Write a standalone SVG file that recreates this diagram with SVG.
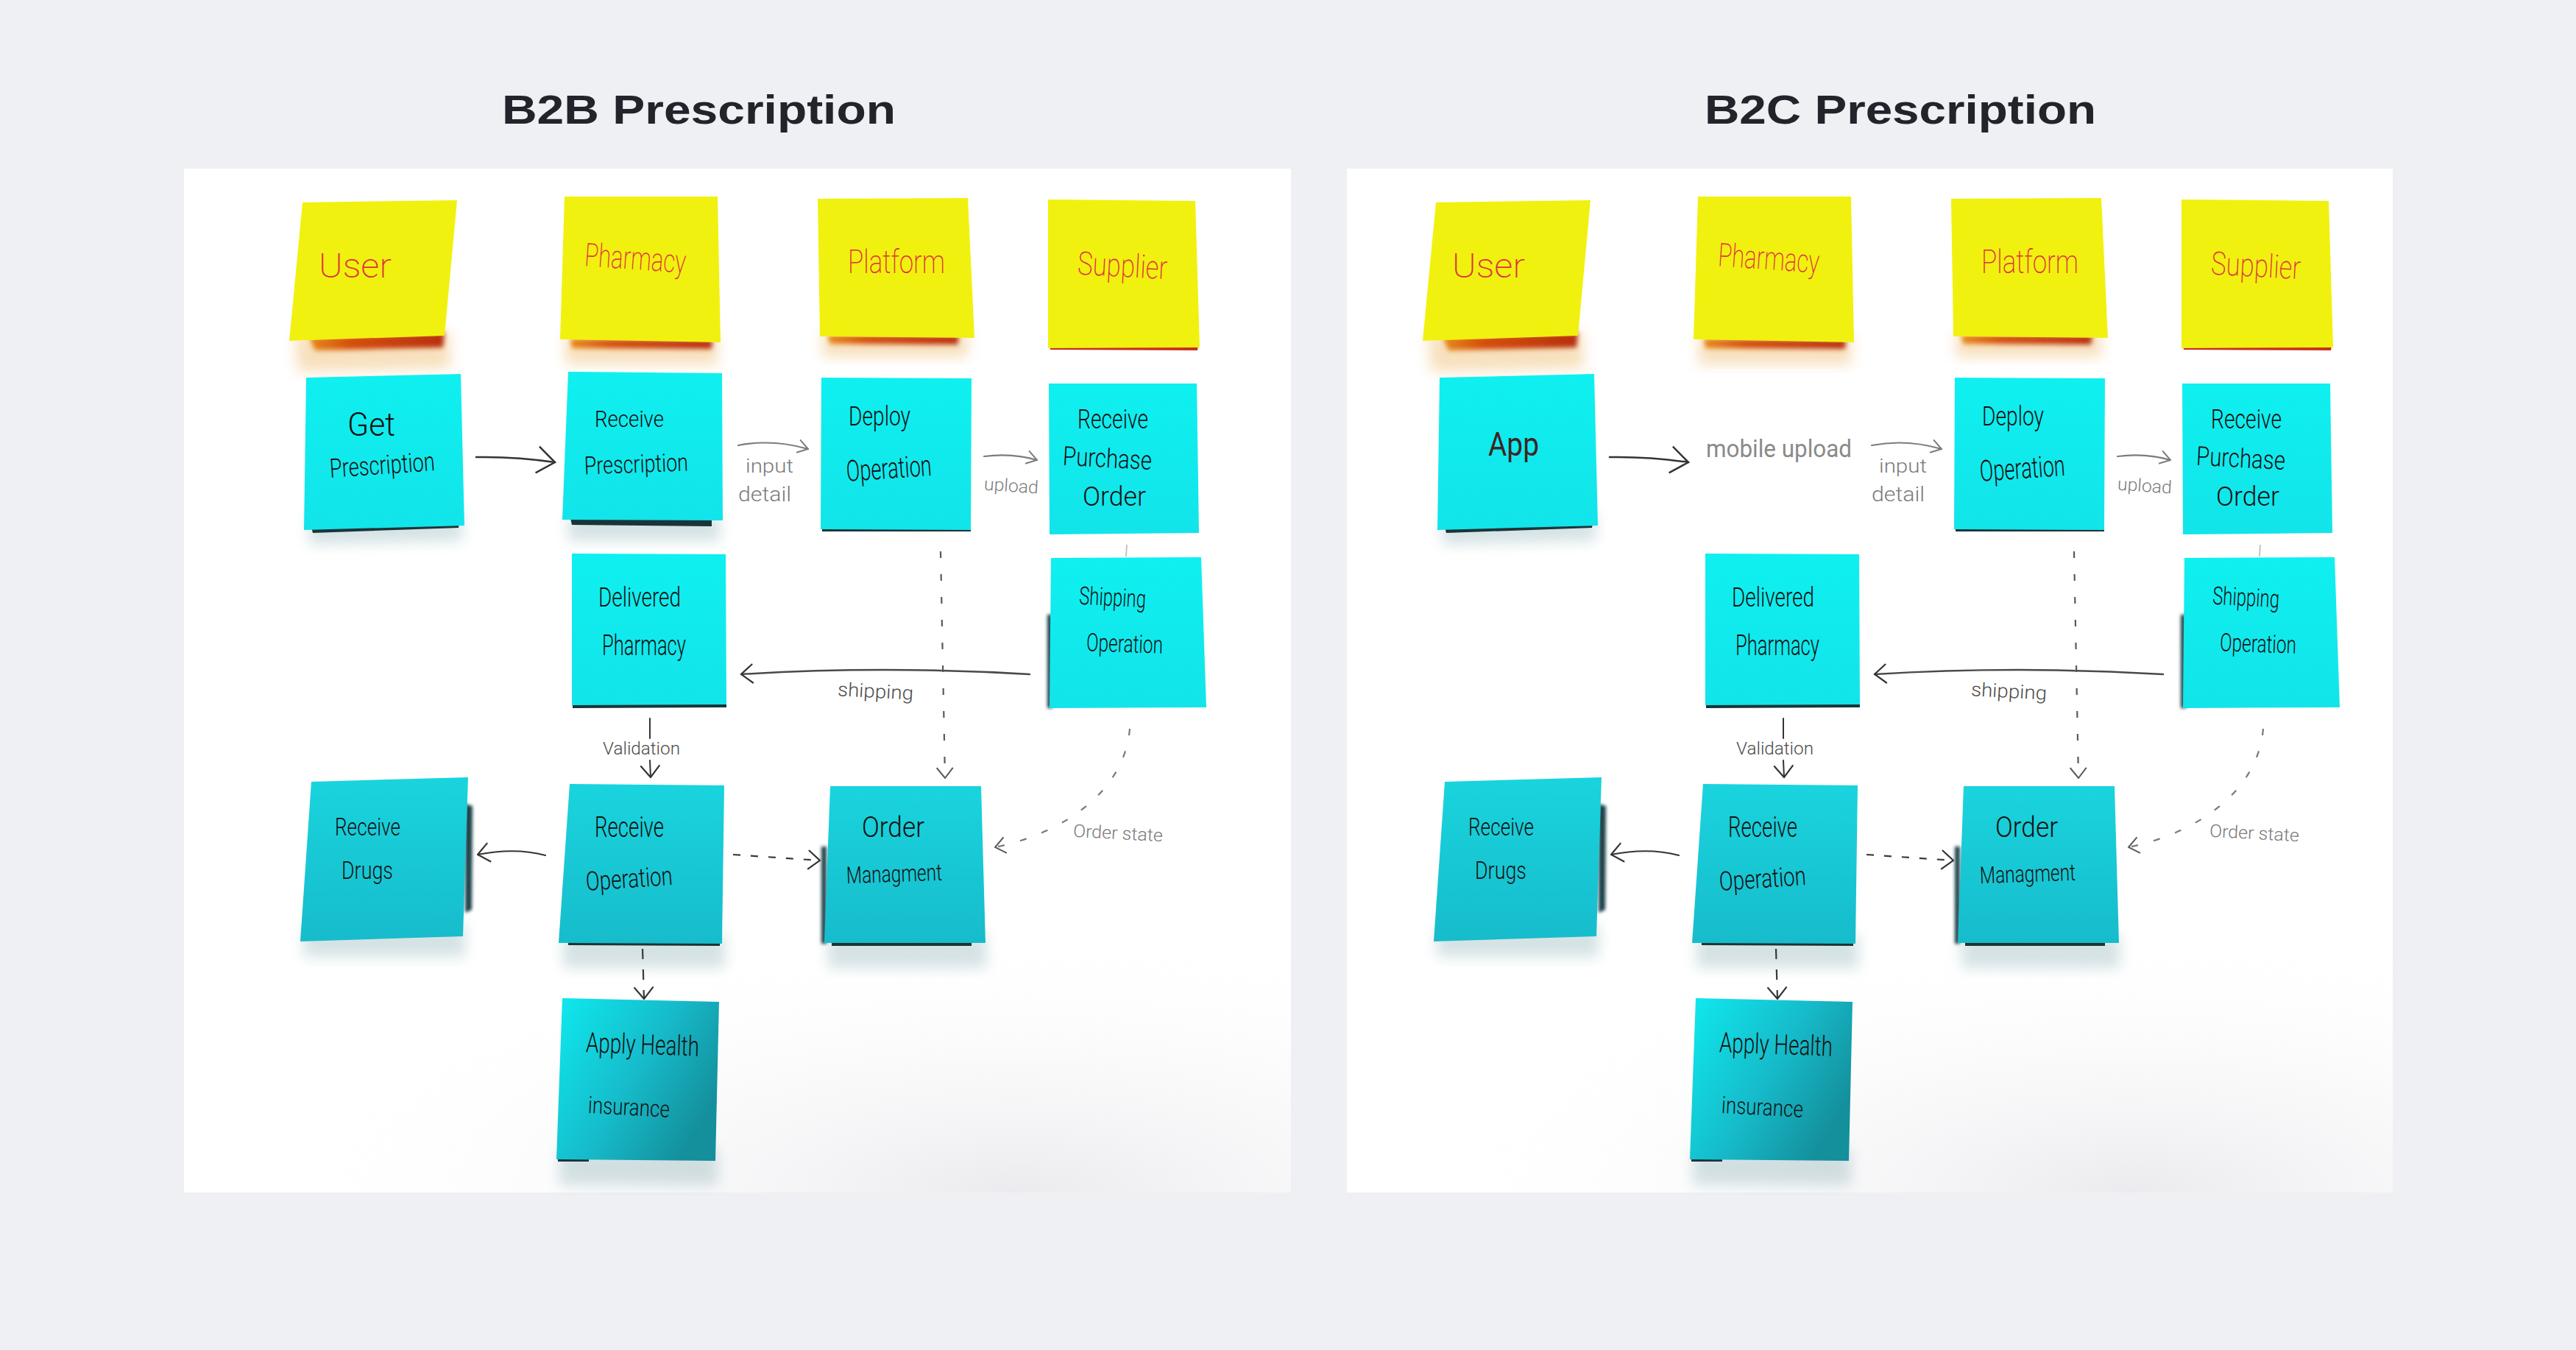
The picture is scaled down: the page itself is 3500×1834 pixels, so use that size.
<svg xmlns="http://www.w3.org/2000/svg" width="3500" height="1834" viewBox="0 0 3500 1834">
<style>
.title{font-family:"Liberation Sans",Arial,sans-serif;font-weight:700;font-size:56px;fill:#22232b}
.lane{font-family:Roboto,"Liberation Sans",sans-serif;font-weight:200;fill:#e0303c}
.hand{font-family:Roboto,"Liberation Sans",sans-serif;font-weight:300;fill:#121212}
.lbl{font-family:Roboto,"Liberation Sans",sans-serif;font-weight:300;fill:#4a4a4a}
.lblg{font-family:Roboto,"Liberation Sans",sans-serif;font-weight:300;fill:#7a7a7a}
.yel{fill:#f1f10f}
.cy{fill:url(#gCy)}
.cyd{fill:url(#gCyD)}
.cyh{fill:url(#gCyH)}
.edge{fill:#1a3438}
.edgeS{fill:#1d4248;filter:url(#blurS)}
.ysh{fill:url(#gYs);filter:url(#blur)}
.ysoft{fill:#e9a640;opacity:.35;filter:url(#blurL)}
.csoft{fill:#6a9aa0;opacity:.28;filter:url(#blurL)}
.c-dark{fill:none;stroke:#343434;stroke-width:2.5;stroke-linecap:round}
.c-gray{fill:none;stroke:#7c7c7c;stroke-width:2.2;stroke-linecap:round}
.c-dash{fill:none;stroke:#5a5a5a;stroke-width:2.2;stroke-dasharray:9 22}
.c-dash2{fill:none;stroke:#3a3a3a;stroke-width:2.2;stroke-dasharray:10 14}
.c-faint{fill:none;stroke:#c4c4c4;stroke-width:2}
</style>
<defs>
<linearGradient id="gCy" x1="0" y1="0" x2="0" y2="1"><stop offset="0" stop-color="#0ff0f0"/><stop offset="1" stop-color="#12e4ea"/></linearGradient>
<linearGradient id="gCyD" x1="0" y1="0" x2="0" y2="1"><stop offset="0" stop-color="#19d4de"/><stop offset="1" stop-color="#17bccb"/></linearGradient>
<linearGradient id="gCyH" x1="0" y1="0" x2="1" y2="0.6"><stop offset="0" stop-color="#0eeaee"/><stop offset="0.55" stop-color="#16bccb"/><stop offset="1" stop-color="#148f9c"/></linearGradient>
<linearGradient id="gYs" x1="0" y1="0" x2="1" y2="0"><stop offset="0" stop-color="#e88a1a"/><stop offset="0.3" stop-color="#d4500c"/><stop offset="1" stop-color="#b8300a"/></linearGradient>
<radialGradient id="gFloor" cx="0.75" cy="1" r="0.7"><stop offset="0" stop-color="#e9e8ec" stop-opacity="0.9"/><stop offset="1" stop-color="#ffffff" stop-opacity="0"/></radialGradient>
<filter id="blur" x="-20%" y="-50%" width="140%" height="200%"><feGaussianBlur stdDeviation="3"/></filter>
<filter id="blurS" x="-100%" y="-10%" width="300%" height="120%"><feGaussianBlur stdDeviation="2"/></filter>
<filter id="blurL" x="-30%" y="-30%" width="160%" height="160%"><feGaussianBlur stdDeviation="9"/></filter>
<marker id="mL" viewBox="0 0 28 40" refX="26" refY="20" markerWidth="28" markerHeight="40" markerUnits="userSpaceOnUse" orient="auto"><path d="M2,2 L26,20 L2,38" fill="none" stroke="#343434" stroke-width="2.5"/></marker>
<marker id="mM" viewBox="0 0 18 28" refX="17" refY="14" markerWidth="18" markerHeight="28" markerUnits="userSpaceOnUse" orient="auto"><path d="M1,1 L17,14 L1,27" fill="none" stroke="#343434" stroke-width="2.2"/></marker>
<marker id="mG" viewBox="0 0 16 20" refX="15" refY="10" markerWidth="16" markerHeight="20" markerUnits="userSpaceOnUse" orient="auto"><path d="M1,1 L15,10 L1,19" fill="none" stroke="#7c7c7c" stroke-width="2"/></marker>
<marker id="mD" viewBox="0 0 16 24" refX="15" refY="12" markerWidth="16" markerHeight="24" markerUnits="userSpaceOnUse" orient="auto"><path d="M1,1 L15,12 L1,23" fill="none" stroke="#5a5a5a" stroke-width="2"/></marker>
</defs>

<rect width="3500" height="1834" fill="#eff0f4"/>
<rect x="250" y="229" width="1504" height="1391" fill="#ffffff"/>
<rect x="1830" y="229" width="1421" height="1391" fill="#ffffff"/>
<rect x="250" y="1100" width="1504" height="520" fill="url(#gFloor)"/>
<rect x="1830" y="1100" width="1421" height="520" fill="url(#gFloor)"/>

<text class="title" x="682" y="168" textLength="535" lengthAdjust="spacingAndGlyphs">B2B Prescription</text>
<text class="title" x="2316" y="168" textLength="532" lengthAdjust="spacingAndGlyphs">B2C Prescription</text>

<!-- ============ B2B panel nodes ============ -->
<g id="b2b-user">
<polygon class="ysoft" points="400,455 610,450 612,500 405,505"/>
<polygon class="ysh" points="420,458 604,452 602,472 428,476"/>
<polygon class="yel" points="411,275 621,272 604,456 393,463"/>
<text class="lane" x="433" y="377" font-size="46" textLength="99" lengthAdjust="spacingAndGlyphs">User</text>
</g>
<g id="b2b-pharmacy">
<polygon class="ysoft" points="768,455 975,455 975,495 768,495"/>
<polygon class="ysh" points="775,460 968,462 967,474 777,473"/>
<polygon class="yel" points="767,267 975,267 979,465 761,461"/>
<text class="lane" x="794" y="366" font-size="44" textLength="138" lengthAdjust="spacingAndGlyphs" transform="rotate(4 863 355)">Pharmacy</text>
</g>
<g id="b2b-platform">
<polygon class="ysoft" points="1118,450 1315,450 1315,485 1118,485"/>
<polygon class="ysh" points="1125,455 1303,456 1301,468 1127,467"/>
<polygon class="yel" points="1111,270 1315,269 1324,459 1114,457"/>
<text class="lane" x="1152" y="371" font-size="44" textLength="132" lengthAdjust="spacingAndGlyphs">Platform</text>
</g>
<g id="b2b-supplier">
<polygon points="1426,468 1628,469 1627,476 1427,475" fill="#c8301a"/>
<polygon class="yel" points="1424,271 1624,273 1630,472 1424,473"/>
<text class="lane" x="1464" y="376" font-size="44" textLength="122" lengthAdjust="spacingAndGlyphs" transform="rotate(3 1525 365)">Supplier</text>
</g>

<g id="b2b-get-prescription">
<polygon class="csoft" points="420,700 628,695 628,735 420,740"/>
<polygon class="edge" points="423,716 624,710 623,717 425,724"/>
<polygon class="cy" points="416,513 626,508 631,714 413,720"/>
<text class="hand" x="472" y="592" font-size="44" textLength="65" lengthAdjust="spacingAndGlyphs">Get</text>
<text class="hand" x="448" y="644" font-size="36" textLength="143" lengthAdjust="spacingAndGlyphs" transform="rotate(-4 520 635)">Prescription</text>
</g>
<g id="b2b-receive-prescription">
<polygon class="csoft" points="772,700 978,700 978,735 772,735"/>
<polygon class="edge" points="775,704 967,706 967,715 777,713"/>
<polygon class="cy" points="772,505 981,507 982,707 764,706"/>
<text class="hand" x="808" y="580" font-size="32" textLength="94" lengthAdjust="spacingAndGlyphs">Receive</text>
<text class="hand" x="794" y="642" font-size="34" textLength="141" lengthAdjust="spacingAndGlyphs" transform="rotate(-2 865 635)">Prescription</text>
</g>
<g id="b2b-deploy-operation">
<polygon class="edge" points="1117,718 1319,718 1319,722 1117,722"/>
<polygon class="cy" points="1116,513 1320,514 1319,720 1115,719"/>
<text class="hand" x="1153" y="578" font-size="36" textLength="84" lengthAdjust="spacingAndGlyphs">Deploy</text>
<text class="hand" x="1150" y="650" font-size="40" textLength="116" lengthAdjust="spacingAndGlyphs" transform="rotate(-4 1208 640)">Operation</text>
</g>
<g id="b2b-receive-purchase-order">
<polygon class="cy" points="1425,521 1626,521 1629,724 1426,726"/>
<text class="hand" x="1464" y="582" font-size="36" textLength="96" lengthAdjust="spacingAndGlyphs">Receive</text>
<text class="hand" x="1444" y="635" font-size="36" textLength="121" lengthAdjust="spacingAndGlyphs" transform="rotate(3 1505 625)">Purchase</text>
<text class="hand" x="1471" y="687" font-size="36" textLength="86" lengthAdjust="spacingAndGlyphs">Order</text>
</g>
<g id="b2b-delivered-pharmacy">
<polygon class="edge" points="778,957 987,956 987,961 778,962"/>
<polygon class="cy" points="777,752 986,753 987,957 777,958"/>
<text class="hand" x="813" y="824" font-size="36" textLength="112" lengthAdjust="spacingAndGlyphs">Delivered</text>
<text class="hand" x="818" y="890" font-size="38" textLength="114" lengthAdjust="spacingAndGlyphs">Pharmacy</text>
</g>
<g id="b2b-shipping-operation">
<polygon class="edgeS" points="1423,835 1430,835 1430,962 1423,962"/>
<polygon class="cy" points="1428,758 1632,757 1639,961 1426,962"/>
<text class="hand" x="1466" y="823" font-size="34" textLength="91" lengthAdjust="spacingAndGlyphs" transform="rotate(3 1510 815)">Shipping</text>
<text class="hand" x="1476" y="886" font-size="34" textLength="104" lengthAdjust="spacingAndGlyphs" transform="rotate(2 1528 878)">Operation</text>
</g>

<g id="b2b-receive-drugs">
<polygon class="csoft" points="412,1260 632,1255 632,1300 412,1300"/>
<polygon class="edgeS" points="632,1092 642,1095 641,1236 632,1240"/>
<polygon class="cyd" points="423,1062 636,1056 629,1272 408,1279"/>
<text class="hand" x="455" y="1135" font-size="34" textLength="89" lengthAdjust="spacingAndGlyphs">Receive</text>
<text class="hand" x="464" y="1194" font-size="34" textLength="70" lengthAdjust="spacingAndGlyphs">Drugs</text>
</g>
<g id="b2b-receive-operation">
<polygon class="csoft" points="765,1270 985,1270 985,1315 765,1315"/>
<polygon class="edge" points="772,1279 978,1280 978,1285 772,1284"/>
<polygon class="cyd" points="774,1065 984,1067 981,1282 759,1281"/>
<text class="hand" x="808" y="1137" font-size="38" textLength="94" lengthAdjust="spacingAndGlyphs">Receive</text>
<text class="hand" x="796" y="1206" font-size="36" textLength="118" lengthAdjust="spacingAndGlyphs" transform="rotate(-4 855 1196)">Operation</text>
</g>
<g id="b2b-order-managment">
<polygon class="csoft" points="1125,1270 1340,1270 1340,1315 1125,1315"/>
<polygon class="edgeS" points="1116,1150 1123,1150 1123,1282 1116,1282"/>
<polygon class="edge" points="1130,1280 1320,1280 1320,1285 1130,1285"/>
<polygon class="cyd" points="1128,1068 1333,1068 1339,1281 1120,1281"/>
<text class="hand" x="1171" y="1137" font-size="38" textLength="85" lengthAdjust="spacingAndGlyphs">Order</text>
<text class="hand" x="1150" y="1198" font-size="32" textLength="130" lengthAdjust="spacingAndGlyphs" transform="rotate(-2 1215 1190)">Managment</text>
</g>
<g id="b2b-apply-health-insurance">
<polygon class="csoft" points="760,1560 975,1560 975,1610 760,1610"/>
<polygon class="edge" points="758,1573 800,1573 800,1578 758,1578"/>
<polygon class="cyh" points="764,1356 977,1361 972,1577 756,1575"/>
<text class="hand" x="796" y="1432" font-size="38" textLength="154" lengthAdjust="spacingAndGlyphs" transform="rotate(2 873 1420)">Apply Health</text>
<text class="hand" x="799" y="1515" font-size="32" textLength="111" lengthAdjust="spacingAndGlyphs" transform="rotate(3 855 1505)">insurance</text>
</g>

<!-- ============ B2C panel nodes ============ -->
<g id="b2c-user" transform="translate(1540 0)">
<polygon class="ysoft" points="400,455 610,450 612,500 405,505"/>
<polygon class="ysh" points="420,458 604,452 602,472 428,476"/>
<polygon class="yel" points="411,275 621,272 604,456 393,463"/>
<text class="lane" x="433" y="377" font-size="46" textLength="99" lengthAdjust="spacingAndGlyphs">User</text>
</g>
<g id="b2c-pharmacy" transform="translate(1540 0)">
<polygon class="ysoft" points="768,455 975,455 975,495 768,495"/>
<polygon class="ysh" points="775,460 968,462 967,474 777,473"/>
<polygon class="yel" points="767,267 975,267 979,465 761,461"/>
<text class="lane" x="794" y="366" font-size="44" textLength="138" lengthAdjust="spacingAndGlyphs" transform="rotate(4 863 355)">Pharmacy</text>
</g>
<g id="b2c-platform" transform="translate(1540 0)">
<polygon class="ysoft" points="1118,450 1315,450 1315,485 1118,485"/>
<polygon class="ysh" points="1125,455 1303,456 1301,468 1127,467"/>
<polygon class="yel" points="1111,270 1315,269 1324,459 1114,457"/>
<text class="lane" x="1152" y="371" font-size="44" textLength="132" lengthAdjust="spacingAndGlyphs">Platform</text>
</g>
<g id="b2c-supplier" transform="translate(1540 0)">
<polygon points="1426,468 1628,469 1627,476 1427,475" fill="#c8301a"/>
<polygon class="yel" points="1424,271 1624,273 1630,472 1424,473"/>
<text class="lane" x="1464" y="376" font-size="44" textLength="122" lengthAdjust="spacingAndGlyphs" transform="rotate(3 1525 365)">Supplier</text>
</g>

<g id="b2c-app" transform="translate(1540 0)">
<polygon class="csoft" points="420,700 628,695 628,735 420,740"/>
<polygon class="edge" points="423,716 624,710 623,717 425,724"/>
<polygon class="cy" points="416,513 626,508 631,714 413,720"/>
<text class="hand" x="482" y="619" font-size="44" textLength="69" lengthAdjust="spacingAndGlyphs" style="fill:#3e2424;font-weight:400">App</text>
</g>
<g id="b2c-deploy-operation" transform="translate(1540 0)">
<polygon class="edge" points="1117,718 1319,718 1319,722 1117,722"/>
<polygon class="cy" points="1116,513 1320,514 1319,720 1115,719"/>
<text class="hand" x="1153" y="578" font-size="36" textLength="84" lengthAdjust="spacingAndGlyphs">Deploy</text>
<text class="hand" x="1150" y="650" font-size="40" textLength="116" lengthAdjust="spacingAndGlyphs" transform="rotate(-4 1208 640)">Operation</text>
</g>
<g id="b2c-receive-purchase-order" transform="translate(1540 0)">
<polygon class="cy" points="1425,521 1626,521 1629,724 1426,726"/>
<text class="hand" x="1464" y="582" font-size="36" textLength="96" lengthAdjust="spacingAndGlyphs">Receive</text>
<text class="hand" x="1444" y="635" font-size="36" textLength="121" lengthAdjust="spacingAndGlyphs" transform="rotate(3 1505 625)">Purchase</text>
<text class="hand" x="1471" y="687" font-size="36" textLength="86" lengthAdjust="spacingAndGlyphs">Order</text>
</g>
<g id="b2c-delivered-pharmacy" transform="translate(1540 0)">
<polygon class="edge" points="778,957 987,956 987,961 778,962"/>
<polygon class="cy" points="777,752 986,753 987,957 777,958"/>
<text class="hand" x="813" y="824" font-size="36" textLength="112" lengthAdjust="spacingAndGlyphs">Delivered</text>
<text class="hand" x="818" y="890" font-size="38" textLength="114" lengthAdjust="spacingAndGlyphs">Pharmacy</text>
</g>
<g id="b2c-shipping-operation" transform="translate(1540 0)">
<polygon class="edgeS" points="1423,835 1430,835 1430,962 1423,962"/>
<polygon class="cy" points="1428,758 1632,757 1639,961 1426,962"/>
<text class="hand" x="1466" y="823" font-size="34" textLength="91" lengthAdjust="spacingAndGlyphs" transform="rotate(3 1510 815)">Shipping</text>
<text class="hand" x="1476" y="886" font-size="34" textLength="104" lengthAdjust="spacingAndGlyphs" transform="rotate(2 1528 878)">Operation</text>
</g>
<g id="b2c-receive-drugs" transform="translate(1540 0)">
<polygon class="csoft" points="412,1260 632,1255 632,1300 412,1300"/>
<polygon class="edgeS" points="632,1092 642,1095 641,1236 632,1240"/>
<polygon class="cyd" points="423,1062 636,1056 629,1272 408,1279"/>
<text class="hand" x="455" y="1135" font-size="34" textLength="89" lengthAdjust="spacingAndGlyphs">Receive</text>
<text class="hand" x="464" y="1194" font-size="34" textLength="70" lengthAdjust="spacingAndGlyphs">Drugs</text>
</g>
<g id="b2c-receive-operation" transform="translate(1540 0)">
<polygon class="csoft" points="765,1270 985,1270 985,1315 765,1315"/>
<polygon class="edge" points="772,1279 978,1280 978,1285 772,1284"/>
<polygon class="cyd" points="774,1065 984,1067 981,1282 759,1281"/>
<text class="hand" x="808" y="1137" font-size="38" textLength="94" lengthAdjust="spacingAndGlyphs">Receive</text>
<text class="hand" x="796" y="1206" font-size="36" textLength="118" lengthAdjust="spacingAndGlyphs" transform="rotate(-4 855 1196)">Operation</text>
</g>
<g id="b2c-order-managment" transform="translate(1540 0)">
<polygon class="csoft" points="1125,1270 1340,1270 1340,1315 1125,1315"/>
<polygon class="edgeS" points="1116,1150 1123,1150 1123,1282 1116,1282"/>
<polygon class="edge" points="1130,1280 1320,1280 1320,1285 1130,1285"/>
<polygon class="cyd" points="1128,1068 1333,1068 1339,1281 1120,1281"/>
<text class="hand" x="1171" y="1137" font-size="38" textLength="85" lengthAdjust="spacingAndGlyphs">Order</text>
<text class="hand" x="1150" y="1198" font-size="32" textLength="130" lengthAdjust="spacingAndGlyphs" transform="rotate(-2 1215 1190)">Managment</text>
</g>
<g id="b2c-apply-health-insurance" transform="translate(1540 0)">
<polygon class="csoft" points="760,1560 975,1560 975,1610 760,1610"/>
<polygon class="edge" points="758,1573 800,1573 800,1578 758,1578"/>
<polygon class="cyh" points="764,1356 977,1361 972,1577 756,1575"/>
<text class="hand" x="796" y="1432" font-size="38" textLength="154" lengthAdjust="spacingAndGlyphs" transform="rotate(2 873 1420)">Apply Health</text>
<text class="hand" x="799" y="1515" font-size="32" textLength="111" lengthAdjust="spacingAndGlyphs" transform="rotate(3 855 1505)">insurance</text>
</g>

<!-- ============ connectors ============ -->
<g id="connectors">
<!-- B2B -->
<path class="c-dark" d="M647,621 Q700,620 754,628" marker-end="url(#mL)"/>
<path class="c-gray" d="M1003,605 Q1050,596 1098,610" marker-end="url(#mG)"/>
<text class="lblg" x="1013" y="642" font-size="26" textLength="65" lengthAdjust="spacingAndGlyphs">input</text>
<text class="lblg" x="1003" y="681" font-size="28" textLength="72" lengthAdjust="spacingAndGlyphs">detail</text>
<path class="c-gray" d="M1337,620 Q1375,615 1409,625" marker-end="url(#mG)"/>
<text class="lblg" x="1337" y="668" font-size="24" textLength="74" lengthAdjust="spacingAndGlyphs" transform="rotate(4 1374 660)">upload</text>
<path class="c-faint" d="M1531,740 L1530,756"/>
<path class="c-dark" d="M1399,916 Q1200,904 1007,916" style="stroke:#4a4a4a" marker-end="url(#mM)"/>
<text class="lbl" x="1138" y="948" font-size="26" textLength="103" lengthAdjust="spacingAndGlyphs" transform="rotate(3 1190 940)">shipping</text>
<path class="c-dash" d="M1278,749 L1284,1057" marker-end="url(#mD)"/>
<path class="c-dash" d="M1535,990 C1528,1075 1445,1132 1352,1151" style="stroke:#7a7a7a" marker-end="url(#mD)"/>
<text class="lblg" x="1458" y="1140" font-size="24" textLength="122" lengthAdjust="spacingAndGlyphs" transform="rotate(3 1519 1132)">Order state</text>
<path class="c-dark" d="M883,976 L883,1003" style="stroke-width:2"/>
<text class="lbl" x="819" y="1025" font-size="24" textLength="105" lengthAdjust="spacingAndGlyphs">Validation</text>
<path class="c-dark" d="M883,1033 L884,1056" style="stroke-width:2" marker-end="url(#mM)"/>
<path class="c-dark" d="M741,1162 Q700,1151 649,1161" style="stroke-width:2.2" marker-end="url(#mM)"/>
<path class="c-dash2" d="M996,1161 L1114,1169" marker-end="url(#mM)"/>
<path class="c-dash2" d="M873,1289 L875,1357" style="stroke-dasharray:14 14" marker-end="url(#mM)"/>

<!-- B2C -->
<path class="c-dark" d="M2187,621 Q2240,620 2294,628" marker-end="url(#mL)"/>
<text class="lblg" x="2318" y="621" font-size="34" textLength="198" lengthAdjust="spacingAndGlyphs" style="fill:#8a8a8a;font-weight:400">mobile upload</text>
<path class="c-gray" d="M2543,605 Q2590,596 2638,610" marker-end="url(#mG)"/>
<text class="lblg" x="2553" y="642" font-size="26" textLength="65" lengthAdjust="spacingAndGlyphs">input</text>
<text class="lblg" x="2543" y="681" font-size="28" textLength="72" lengthAdjust="spacingAndGlyphs">detail</text>
<path class="c-gray" d="M2877,620 Q2915,615 2949,625" marker-end="url(#mG)"/>
<text class="lblg" x="2877" y="668" font-size="24" textLength="74" lengthAdjust="spacingAndGlyphs" transform="rotate(4 2914 660)">upload</text>
<path class="c-faint" d="M3071,740 L3070,756"/>
<path class="c-dark" d="M2939,916 Q2740,904 2547,916" style="stroke:#4a4a4a" marker-end="url(#mM)"/>
<text class="lbl" x="2678" y="948" font-size="26" textLength="103" lengthAdjust="spacingAndGlyphs" transform="rotate(3 2730 940)">shipping</text>
<path class="c-dash" d="M2818,749 L2824,1057" marker-end="url(#mD)"/>
<path class="c-dash" d="M3075,990 C3068,1075 2985,1132 2892,1151" style="stroke:#7a7a7a" marker-end="url(#mD)"/>
<text class="lblg" x="3002" y="1140" font-size="24" textLength="122" lengthAdjust="spacingAndGlyphs" transform="rotate(3 3063 1132)">Order state</text>
<path class="c-dark" d="M2423,976 L2423,1003" style="stroke-width:2"/>
<text class="lbl" x="2359" y="1025" font-size="24" textLength="105" lengthAdjust="spacingAndGlyphs">Validation</text>
<path class="c-dark" d="M2423,1033 L2424,1056" style="stroke-width:2" marker-end="url(#mM)"/>
<path class="c-dark" d="M2281,1162 Q2240,1151 2189,1161" style="stroke-width:2.2" marker-end="url(#mM)"/>
<path class="c-dash2" d="M2536,1161 L2654,1169" marker-end="url(#mM)"/>
<path class="c-dash2" d="M2413,1289 L2415,1357" style="stroke-dasharray:14 14" marker-end="url(#mM)"/>
</g>
</svg>
